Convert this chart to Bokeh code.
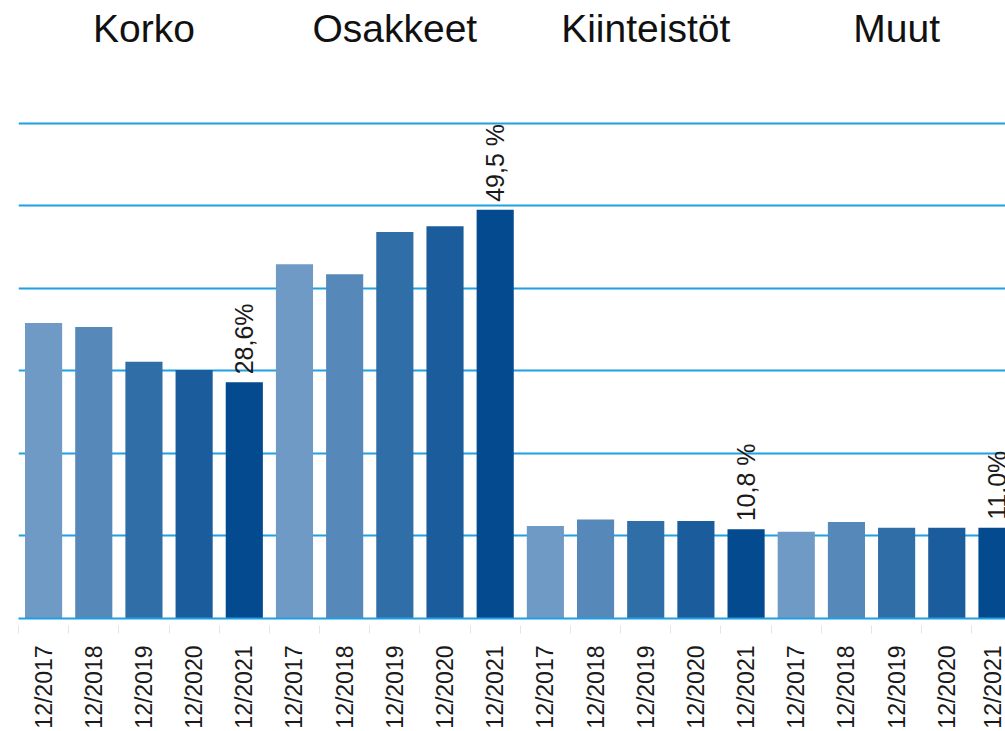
import math
from bokeh.plotting import figure
from bokeh.models import FixedTicker, Range1d, ColumnDataSource
from bokeh.core.properties import value
from bokeh.embed import file_html
from bokeh.resources import INLINE

# ---- data ----
groups = ["Korko", "Osakkeet", "Kiinteistöt", "Muut"]
years = ["12/2017", "12/2018", "12/2019", "12/2020", "12/2021"]
korko = [35.8, 35.3, 31.1, 30.1, 28.6]
osakkeet = [42.9, 41.7, 46.8, 47.5, 49.5]
kiinteistot = [11.2, 12.0, 11.8, 11.8, 10.8]
muut = [10.5, 11.7, 11.0, 11.0, 11.0]
value_labels = ["28,6%", "49,5 %", "10,8 %", "11,0%"]
year_colors = ["#6e9ac5", "#5689ba", "#2f6ea7", "#1b5c9c", "#034a8e"]
y_ticks = [0, 10, 20, 30, 40, 50, 60]

series = [korko, osakkeet, kiinteistot, muut]
n_years = len(years)

xs, tops, cols, labels = [], [], [], []
for gi, vals in enumerate(series):
    for yi, v in enumerate(vals):
        xs.append(gi * n_years + yi + 0.5)
        tops.append(v)
        cols.append(year_colors[yi])
        labels.append(years[yi])

n_bars = len(xs)
font = "Liberation Sans"
grid_color = "#1fa0e2"

p = figure(width=1005, height=731, output_backend="svg", toolbar_location=None,
           x_range=Range1d(0, 19.67), y_range=Range1d(0, 74.85),
           min_border_left=18, min_border_right=0, min_border_top=0,
           min_border_bottom=111)
p.outline_line_color = None
p.background_fill_color = "white"
p.border_fill_color = "white"

src = ColumnDataSource(dict(x=xs, top=tops, color=cols))
p.vbar(x="x", top="top", bottom=0, width=0.74, fill_color="color",
       line_color=None, source=src)

# value labels on the last year of each group
lx = [gi * n_years + n_years - 1 + 0.5 for gi in range(len(groups))]
ly = [s[-1] for s in series]
p.text(x=lx, y=ly, text=value_labels, angle=math.pi / 2,
       text_align="left", text_baseline="middle", y_offset=-8,
       text_font=value(font), text_font_size="25px", text_color="#1a1a1a")

# group titles
gx = [gi * n_years + n_years / 2 for gi in range(len(groups))]
p.text(x=gx, y=[71.5] * len(groups), text=groups, text_align="center",
       text_baseline="alphabetic", text_font=value(font),
       text_font_size="39px", text_color="#111111")

# axes
p.yaxis.visible = False
p.ygrid.ticker = FixedTicker(ticks=y_ticks)
p.ygrid.grid_line_color = grid_color
p.ygrid.grid_line_width = 2
p.xgrid.grid_line_color = None

xa = p.xaxis[0]
xa.ticker = FixedTicker(ticks=xs, minor_ticks=list(range(0, n_bars + 1)))
xa.major_label_overrides = {x: lab for x, lab in zip(xs, labels)}
xa.major_label_orientation = math.pi / 2
xa.major_label_text_font = font
xa.major_label_text_font_size = "23px"
xa.major_label_text_color = "#1a1a1a"
xa.major_tick_line_color = None
xa.major_tick_out = 0
xa.major_tick_in = 0
xa.minor_tick_line_color = "#e4e4e4"
xa.minor_tick_in = -7
xa.minor_tick_out = 15
xa.axis_line_color = grid_color
xa.axis_line_width = 2
xa.major_label_standoff = 12

open("out.html", "w").write(file_html(p, INLINE))
